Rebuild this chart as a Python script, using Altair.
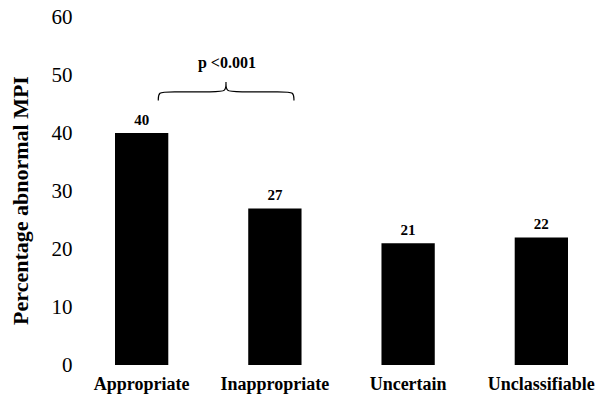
import altair as alt
import pandas as pd

categories = ["Appropriate", "Inappropriate", "Uncertain", "Unclassifiable"]
values = [40, 27, 21, 22]
y_ticks = [0, 10, 20, 30, 40, 50, 60]

# brace annotation (x in category-index units, y in percentage units)
brace_x = [0.125, 0.125, 0.20, 0.56, 0.633, 0.633, 0.633, 0.633, 0.633, 0.706, 1.068, 1.143, 1.143]
brace_y = [45.6, 47.1, 47.1, 47.1, 47.1, 48.8, 48.8, 48.8, 47.1, 47.1, 47.1, 47.1, 45.6]
p_label = ["p <0.001"]
p_x = [0.64]
p_y = [52.1]

FONT = "Liberation Serif"

df = pd.DataFrame({"category": categories, "value": values})
brace_df = pd.DataFrame({"bx": brace_x, "by": brace_y, "ord": list(range(len(brace_x)))})
p_df = pd.DataFrame({"px": p_x, "py": p_y, "label": p_label})

band_scale = alt.Scale(type="band", paddingInner=0.6, paddingOuter=0)
y_scale = alt.Scale(domain=[0, 60], nice=False, zero=True)

y_axis = alt.Axis(
    values=y_ticks, title="Percentage abnormal MPI", grid=False, ticks=False, domain=False,
    labelFont=FONT, labelFontSize=21, labelColor="black", labelPadding=43,
    titleFont=FONT, titleFontSize=22, titleFontWeight="bold", titleColor="black",
    titleAngle=270, titleAlign="center", titleBaseline="alphabetic", titleX=-88, titleY=183,
)

bars = alt.Chart(df).mark_bar(color="black").encode(
    x=alt.X("category:N", sort=categories, scale=band_scale,
            axis=alt.Axis(title=None, labelAngle=0, labelFont=FONT, labelFontSize=18,
                          labelFontWeight="bold", labelColor="black", ticks=False,
                          domain=False, labelPadding=10)),
    y=alt.Y("value:Q", scale=y_scale, axis=y_axis),
)

labels = alt.Chart(df).mark_text(
    dy=-13, font=FONT, fontSize=15, fontWeight="bold", color="black"
).encode(
    x=alt.X("category:N", sort=categories, scale=band_scale),
    y=alt.Y("value:Q", scale=y_scale),
    text=alt.Text("value:Q"),
)

qx_scale = alt.Scale(domain=[-0.2, 3.2], nice=False, zero=False)

brace = alt.Chart(brace_df).mark_line(color="black", strokeWidth=1.2, interpolate="basis").encode(
    x=alt.X("bx:Q", scale=qx_scale, axis=None),
    y=alt.Y("by:Q", scale=y_scale),
    order="ord:Q",
)

ptext = alt.Chart(p_df).mark_text(
    font=FONT, fontSize=16, fontWeight="bold", color="black"
).encode(
    x=alt.X("px:Q", scale=qx_scale, axis=None),
    y=alt.Y("py:Q", scale=y_scale),
    text="label:N",
)

chart = alt.layer(alt.layer(bars, labels), brace, ptext).resolve_scale(x="independent").properties(
    width=453, height=348,
    autosize="none",
    padding={"left": 115, "top": 17, "right": 35, "bottom": 29},
    background="white",
).configure_view(stroke=None)

chart.save("out.html", embed_options={"renderer": "svg", "actions": False})
